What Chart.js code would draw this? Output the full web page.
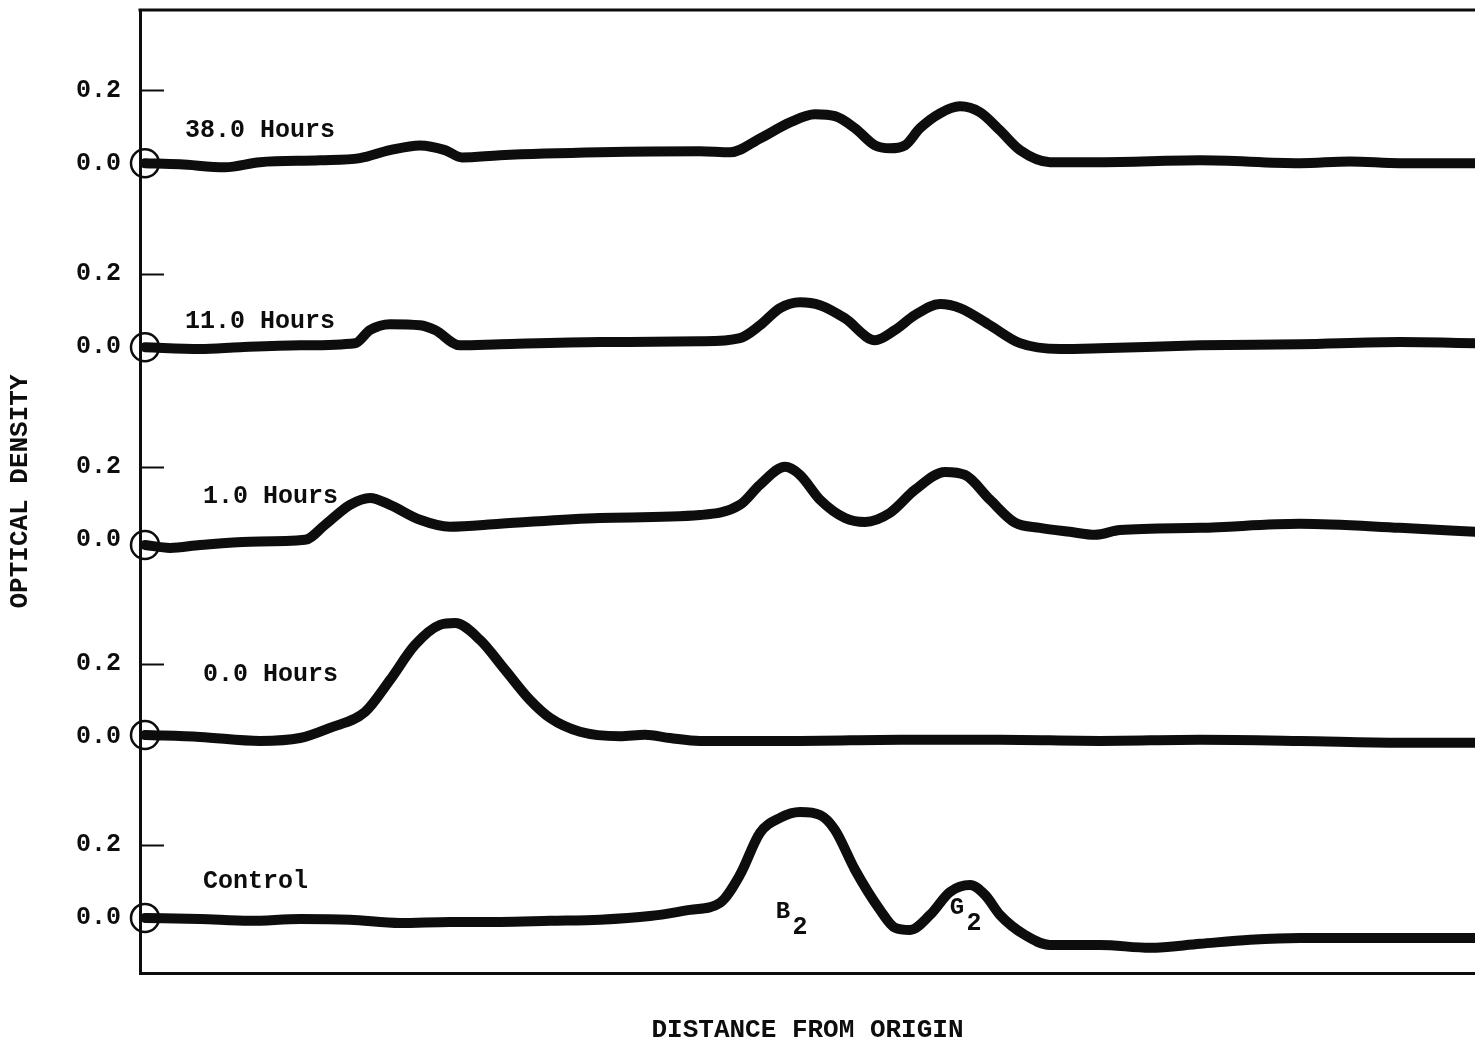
<!DOCTYPE html>
<html>
<head>
<meta charset="utf-8">
<title>Optical density scans</title>
<script src="https://cdn.jsdelivr.net/npm/chart.js@4.4.1/dist/chart.umd.min.js"></script>
<style>
  html, body { margin: 0; padding: 0; background: #fff; overflow: hidden; }
  #wrap { width: 1475px; height: 1053px; position: relative; }
</style>
</head>
<body>
<div id="wrap"><canvas id="c"></canvas></div>
<script>
// Densitometer scans: distance from origin (mm) against optical density.
const traceNames = ['Control', '0.0 Hours', '1.0 Hours', '11.0 Hours', '38.0 Hours'];

const controlX = [0, 5.5, 10.5, 15.5, 20.5, 25.5, 30.5, 35.5, 40.5, 45.5, 50.5, 54.5, 57.5, 59.5, 61.5, 63.5, 65.5, 67.5, 69, 71, 73.5, 75, 76.5, 78.5, 80.5, 82.5, 84, 85.5, 88, 90.5, 95.5, 100.5, 105.5, 110.5, 115.5, 125.5, 133];
const controlY = [0, -0.003, -0.008, -0.003, -0.005, -0.014, -0.011, -0.011, -0.008, -0.005, 0.005, 0.022, 0.041, 0.118, 0.233, 0.274, 0.290, 0.282, 0.241, 0.132, 0.022, -0.027, -0.033, 0.008, 0.071, 0.090, 0.063, 0.008, -0.047, -0.074, -0.074, -0.082, -0.071, -0.060, -0.055, -0.055, -0.055];

const h0X = [0, 5.5, 11.5, 15.5, 18.5, 22, 24.5, 27, 29.5, 31, 33.5, 36, 38.5, 40.5, 43.5, 47.5, 50, 52.5, 55.5, 65.5, 75.5, 85.5, 95.5, 105.5, 115.5, 125.5, 133];
const h0Y = [0.005, 0, -0.011, -0.003, 0.025, 0.068, 0.156, 0.252, 0.307, 0.312, 0.266, 0.184, 0.101, 0.052, 0.014, 0.002, 0.006, -0.003, -0.011, -0.011, -0.008, -0.008, -0.011, -0.008, -0.011, -0.016, -0.016];

const h1X = [0, 2.5, 5.5, 10.5, 16, 18, 20.5, 22.5, 24.5, 27.5, 30.5, 35.5, 45.5, 55.5, 59.5, 61.5, 64, 65.5, 67.5, 70, 72, 74.5, 77, 80, 82, 84.5, 87, 89.5, 92.5, 95, 97.5, 105.5, 115.5, 125.5, 133];
const h1Y = [-0.014, -0.022, -0.014, -0.005, 0, 0.041, 0.096, 0.115, 0.096, 0.055, 0.036, 0.044, 0.060, 0.068, 0.096, 0.151, 0.200, 0.178, 0.110, 0.060, 0.049, 0.074, 0.137, 0.186, 0.178, 0.110, 0.047, 0.033, 0.022, 0.014, 0.027, 0.033, 0.044, 0.033, 0.022];

const h11X = [0, 5.5, 9.5, 15.5, 21, 22.5, 24.5, 27.5, 29, 31.5, 35.5, 45.5, 55.5, 59.5, 61.5, 63.5, 65.5, 67.5, 70, 73, 75, 77, 79.5, 81.5, 84.5, 87.5, 91.5, 95.5, 105.5, 115.5, 125.5, 133];
const h11Y = [0, -0.005, 0, 0.005, 0.011, 0.047, 0.063, 0.060, 0.047, 0.005, 0.008, 0.014, 0.016, 0.025, 0.060, 0.107, 0.123, 0.115, 0.079, 0.019, 0.047, 0.088, 0.118, 0.107, 0.060, 0.011, -0.005, -0.003, 0.005, 0.008, 0.014, 0.011];

const h38X = [0, 3.5, 8, 11.5, 17.5, 21.5, 24.5, 27.5, 30, 31.7, 35.5, 45.5, 55.5, 58.5, 61.5, 64.5, 67, 69, 71, 73, 74.5, 76, 77.5, 79.5, 81.5, 83.5, 85.5, 87.5, 90.5, 95.5, 105.5, 115.5, 120.5, 125.5, 133];
const h38Y = [0, -0.003, -0.011, 0.003, 0.008, 0.014, 0.036, 0.049, 0.036, 0.016, 0.022, 0.030, 0.033, 0.030, 0.068, 0.112, 0.134, 0.129, 0.096, 0.049, 0.041, 0.049, 0.096, 0.137, 0.156, 0.140, 0.090, 0.036, 0.003, 0.003, 0.008, 0, 0.005, 0, 0];

const yTickLabels = ['0.0', '0.2'];
const xTitle = 'DISTANCE FROM ORIGIN';
const yTitle = 'OPTICAL DENSITY';

// Vertical stacking of the scans on the shared density axis
const baselines = [0, 0.496, 1.036, 1.564, 2.068];
const tracesX = [controlX, h0X, h1X, h11X, h38X];
const tracesY = [controlY, h0Y, h1Y, h11Y, h38Y];

const FONT = "'Liberation Mono', 'Courier New', monospace";
const INK = '#0d0d0d';

const datasets = traceNames.map((name, k) => ({
  label: name,
  data: tracesX[k].map((x, i) => ({ x: x, y: tracesY[k][i] + baselines[k] })),
  borderColor: INK,
  borderWidth: 10,
  borderCapStyle: 'round',
  borderJoinStyle: 'round',
  cubicInterpolationMode: 'monotone',
  fill: false,
  clip: false,
  pointRadius: ctx => (ctx.dataIndex === 0 ? 14 : 0),
  pointHoverRadius: ctx => (ctx.dataIndex === 0 ? 14 : 0),
  pointBorderWidth: 2.5,
  pointBorderColor: INK,
  pointBackgroundColor: 'rgba(0,0,0,0)'
}));

// Frame top edge, inward 0.2 tick marks, scan names and band labels
const decorations = {
  id: 'decorations',
  afterDatasetsDraw(chart) {
    const { ctx, chartArea, scales } = chart;
    const xs = scales.x, ys = scales.y;
    ctx.save();
    ctx.strokeStyle = INK;
    ctx.lineWidth = 3;
    ctx.beginPath();
    ctx.moveTo(chartArea.left - 1.5, chartArea.top);
    ctx.lineTo(chartArea.right, chartArea.top);
    ctx.stroke();

    ctx.lineWidth = 2;
    baselines.forEach(b => {
      const y = Math.round(ys.getPixelForValue(b + 0.2)) + 0.5;
      ctx.beginPath();
      ctx.moveTo(chartArea.left, y);
      ctx.lineTo(chartArea.left + 24, y);
      ctx.stroke();
    });

    ctx.fillStyle = INK;
    ctx.font = 'bold 25px ' + FONT;
    ctx.textBaseline = 'middle';
    ctx.textAlign = 'left';
    const nameX = [5.8, 5.8, 5.8, 4.0, 4.0];
    const nameY = [0.099, 0.170, 0.118, 0.071, 0.090];
    traceNames.forEach((name, k) => {
      ctx.fillText(name, xs.getPixelForValue(nameX[k]), ys.getPixelForValue(baselines[k] + nameY[k]));
    });

    // Band labels under the control scan
    const band = (letter, x, y) => {
      const px = xs.getPixelForValue(x), py = ys.getPixelForValue(y);
      ctx.textAlign = 'center';
      ctx.font = 'bold 24px ' + FONT;
      ctx.fillText(letter, px, py);
      ctx.font = 'bold 25px ' + FONT;
      ctx.fillText('2', px + 17, py + 16);
    };
    band('B', 63.8, 0.016);
    band('G', 81.2, 0.027);
    ctx.restore();
  }
};

new Chart(document.getElementById('c'), {
  type: 'line',
  data: { datasets: datasets },
  options: {
    responsive: true,
    maintainAspectRatio: false,
    animation: false,
    events: [],
    layout: { autoPadding: false, padding: { top: 10, right: 0, left: 0, bottom: 0 } },
    plugins: { legend: { display: false }, tooltip: { enabled: false } },
    scales: {
      x: {
        type: 'linear',
        min: -0.5,
        max: 133,
        afterFit: s => { s.height = 80; s.paddingLeft = 0; s.paddingRight = 0; },
        grid: { display: true, drawOnChartArea: false, drawTicks: false },
        border: { display: true, width: 3, color: INK },
        ticks: { display: false },
        title: {
          display: true,
          text: xTitle,
          color: INK,
          font: { family: FONT, size: 26, weight: 'bold' },
          padding: { top: 0, bottom: 7 }
        }
      },
      y: {
        type: 'linear',
        min: -0.151,
        max: 2.488,
        afterFit: s => { s.width = 140; s.paddingTop = 0; s.paddingBottom = 0; },
        afterBuildTicks: s => {
          s.ticks = baselines.flatMap(b => [{ value: b }, { value: b + 0.2 }]);
        },
        grid: { display: true, drawOnChartArea: false, drawTicks: false },
        border: { display: true, width: 3, color: INK },
        ticks: {
          autoSkip: false,
          padding: 19,
          color: INK,
          font: { family: FONT, size: 25, weight: 'bold' },
          callback: (v, i) => yTickLabels[i % 2]
        },
        title: {
          display: true,
          text: yTitle,
          color: INK,
          font: { family: FONT, size: 26, weight: 'bold' },
          padding: { top: 5, bottom: 0 }
        }
      }
    }
  },
  plugins: [decorations]
});
</script>
</body>
</html>
